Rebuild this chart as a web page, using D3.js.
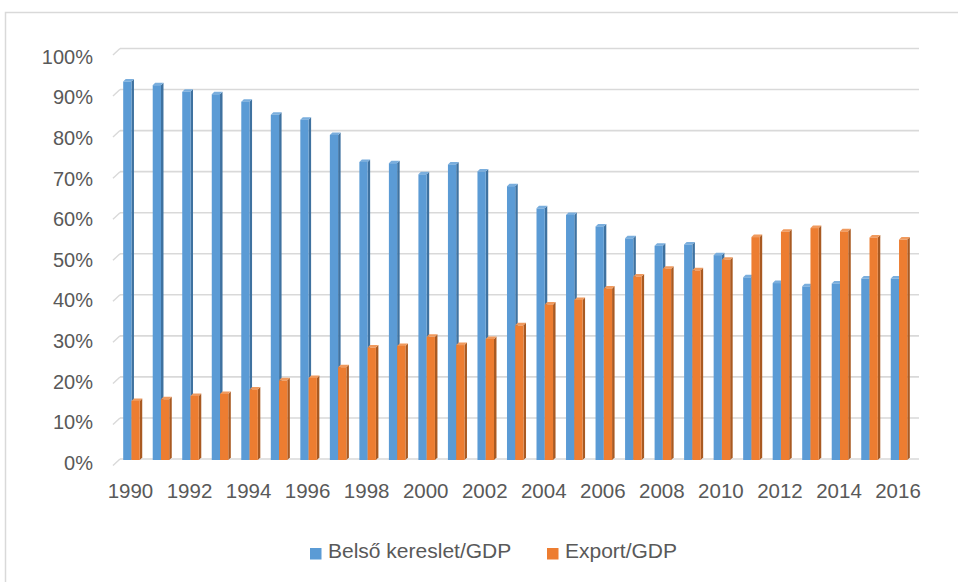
<!DOCTYPE html>
<html>
<head>
<meta charset="utf-8">
<script src="https://cdn.jsdelivr.net/npm/d3@7"></script>
<style>
  body { margin: 0; background: #fff; }
  svg text { font-family: "Liberation Sans", Arial, sans-serif; fill: #595959; }
</style>
</head>
<body>
<div class="chart"></div>
<script>
// adatok
var years = d3.range(1990, 2017);
var belso = [0.922, 0.913, 0.897, 0.891, 0.873, 0.841, 0.829, 0.792, 0.726, 0.723,
             0.696, 0.720, 0.703, 0.667, 0.613, 0.597, 0.569, 0.540, 0.522, 0.525,
             0.499, 0.445, 0.431, 0.423, 0.430, 0.442, 0.442];
var exportGdp = [0.144, 0.148, 0.156, 0.161, 0.172, 0.194, 0.200, 0.226, 0.274, 0.278,
                 0.300, 0.280, 0.295, 0.328, 0.379, 0.390, 0.418, 0.447, 0.466, 0.462,
                 0.488, 0.543, 0.556, 0.565, 0.557, 0.542, 0.537];
var yTicks = [0, 0.1, 0.2, 0.3, 0.4, 0.5, 0.6, 0.7, 0.8, 0.9, 1.0];
var seriesNames = ["Belső kereslet/GDP", "Export/GDP"];

var colors = {
  front: ["#5b9bd5", "#ed7d31"],
  side:  ["#3f72a0", "#a95a22"],
  top:   ["#7aaedd", "#f09a5e"]
};

var width = 958, height = 582;
var depth = 2.5; // 3D oszlop mélysége

var svg = d3.select("div.chart").append("svg")
    .attr("width", width)
    .attr("height", height);

// keret
svg.append("path")
    .attr("d", "M5.5,600 V12.5 H960")
    .attr("fill", "none")
    .attr("stroke", "#d9d9d9")
    .attr("stroke-width", 1.5);

// skálák
var x = d3.scaleBand()
    .domain(years)
    .range([116.7, 913.8])
    .paddingInner(0.44)
    .paddingOuter(0.22);

var xs = d3.scaleBand()
    .domain([0, 1])
    .range([0, x.bandwidth()]);

var y = d3.scaleLinear()
    .domain([0, 1])
    .range([460, 49.5]);

// az elülső sík skálája a tengelyfeliratokhoz
var yFront = d3.scaleLinear()
    .domain([0, 1])
    .range([463, 56.7]);

// rácsvonalak (hátsó fal)
var grid = svg.append("g");
yTicks.forEach(function(t) {
  var gy = y(t) - 1;
  grid.append("line")
      .attr("x1", 120).attr("x2", 919)
      .attr("y1", gy).attr("y2", gy)
      .attr("stroke", "#d9d9d9").attr("stroke-width", 1.6);
  grid.append("line")
      .attr("x1", 113).attr("x2", 120)
      .attr("y1", gy + 6.5).attr("y2", gy)
      .attr("stroke", "#d9d9d9").attr("stroke-width", 1.4);
});

// Y tengely feliratai
svg.append("g").selectAll("text")
    .data(yTicks)
    .enter().append("text")
    .attr("x", 93)
    .attr("y", function(d) { return yFront(d); })
    .attr("dy", "0.35em")
    .attr("text-anchor", "end")
    .style("font-size", "20px")
    .text(d3.format(".0%"));

// X tengely feliratai (minden második év)
svg.append("g").selectAll("text")
    .data(years.filter(function(d) { return (d - 1990) % 2 === 0; }))
    .enter().append("text")
    .attr("x", function(d) { return x(d) + x.bandwidth() / 2 - 1; })
    .attr("y", 491)
    .attr("dy", "0.35em")
    .attr("text-anchor", "middle")
    .style("font-size", "20.5px")
    .text(function(d) { return d; });

// oszlopok
var rows = years.map(function(yr, i) { return {year: yr, v: [belso[i], exportGdp[i]]}; });
var groups = svg.append("g").selectAll("g")
    .data(rows)
    .enter().append("g")
    .attr("transform", function(d) { return "translate(" + x(d.year) + ",0)"; });

[0, 1].forEach(function(s) {
  var w = xs.bandwidth();
  var bx = xs(s);
  var b = groups.append("g");
  b.append("path") // oldallap
      .attr("fill", colors.side[s])
      .attr("d", function(d) {
        var t = y(d.v[s]), bt = y(0);
        return "M" + (bx + w) + "," + t + "L" + (bx + w + depth) + "," + (t - depth) +
               "L" + (bx + w + depth) + "," + (bt - depth) + "L" + (bx + w) + "," + bt + "Z";
      });
  b.append("path") // tető
      .attr("fill", colors.top[s])
      .attr("d", function(d) {
        var t = y(d.v[s]);
        return "M" + bx + "," + t + "L" + (bx + depth) + "," + (t - depth) +
               "L" + (bx + w + depth) + "," + (t - depth) + "L" + (bx + w) + "," + t + "Z";
      });
  b.append("rect") // előlap
      .attr("x", bx)
      .attr("y", function(d) { return y(d.v[s]); })
      .attr("width", w)
      .attr("height", function(d) { return y(0) - y(d.v[s]); })
      .attr("fill", colors.front[s]);
});

// jelmagyarázat
var legendX = [310, 547], textX = [328, 565];
var legend = svg.append("g");
seriesNames.forEach(function(n, i) {
  legend.append("rect")
      .attr("x", legendX[i]).attr("y", 548)
      .attr("width", 11.5).attr("height", 11.5)
      .attr("fill", colors.front[i]);
  legend.append("text")
      .attr("x", textX[i]).attr("y", 551)
      .attr("dy", "0.35em")
      .style("font-size", "21px")
      .text(n);
});
</script>
</body>
</html>
